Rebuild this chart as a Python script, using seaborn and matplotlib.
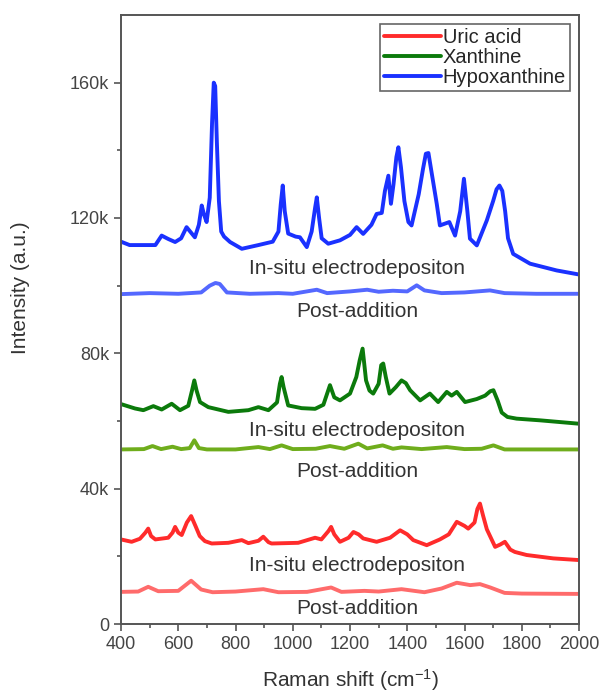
import numpy as np
import pandas as pd
import seaborn as sns
import matplotlib.pyplot as plt

# === DATA (intensities in k counts) ===

#hypoxanthine, in-situ electrodeposition
hyp_x = [400, 430, 520, 542, 565, 589, 610, 629, 658, 672, 682, 690, 699, 710, 718, 724, 729, 735, 742, 750,
         760, 781, 822, 880, 930, 950, 958, 965, 972, 984, 1010, 1025, 1049, 1066, 1078, 1084, 1092, 1101, 1124, 1165,
         1200, 1223, 1246, 1275, 1293, 1311, 1322, 1334, 1343, 1352, 1362, 1369, 1378, 1390, 1404, 1415, 1440, 1455, 1465, 1474,
         1484, 1503, 1514, 1547, 1567, 1585, 1598, 1610, 1619, 1643, 1678, 1700, 1712, 1722, 1732, 1742, 1752, 1770, 1829, 1922,
         2000]
hyp_y = [113, 112, 112, 114.8, 113.8, 112.9, 114, 117.3, 114.3, 118, 123.7, 121, 118.8, 126, 148, 160, 159, 142, 125, 116,
         114.5, 112.9, 110.9, 112, 113, 116, 124, 129.6, 122, 115.4, 114.5, 114.3, 111.4, 116, 123, 126.1, 120, 114, 112.4, 113.4,
         115, 117.3, 115.3, 118, 121.2, 121.5, 128, 132.5, 124.2, 130, 138, 140.9, 135, 125, 118.8, 117.8, 127, 134.5, 139, 139.2,
         134, 124.2, 117.8, 118.8, 114.8, 122, 131.6, 122, 113.9, 111.9, 119.3, 125, 128.5, 129.6, 128, 122, 114, 109.4, 106.5, 104.5,
         103.3]

#hypoxanthine, post-addition
hyp_post_x = [400, 500, 600, 680, 710, 730, 745, 770, 850, 950, 1000, 1084, 1120, 1200, 1260, 1300, 1350, 1400, 1433, 1460,
              1520, 1600, 1689, 1740, 1850, 2000]
hyp_post_y = [97.5, 97.8, 97.6, 98, 100, 100.8, 100.5, 98, 97.6, 97.8, 97.6, 98.8, 97.8, 98.3, 98.8, 98.2, 98.5, 98.3, 100.1, 98.6,
              97.8, 98, 98.6, 97.8, 97.6, 97.6]

#xanthine, in-situ electrodeposition
xan_x = [400, 449, 478, 513, 542, 577, 606, 635, 648, 656, 664, 676, 705, 775, 845, 880, 915, 945, 955, 961,
         968, 984, 1031, 1078, 1107, 1130, 1145, 1165, 1200, 1222, 1234, 1244, 1256, 1268, 1281, 1300, 1309, 1316, 1325, 1338,
         1360, 1380, 1395, 1410, 1445, 1479, 1508, 1538, 1555, 1573, 1602, 1643, 1672, 1690, 1701, 1716, 1730, 1750, 1782, 1864,
         2000]
xan_y = [65, 63.7, 63.2, 64.4, 63.4, 65.1, 63.2, 64.5, 69, 72, 69, 65.6, 64.1, 62.7, 63.2, 64.1, 63.2, 65.5, 71, 73,
         70, 64.6, 63.8, 63.6, 64.8, 70.6, 67, 66.1, 68.1, 73, 78, 81.4, 72, 69, 68.1, 71, 76.5, 77, 73, 68.1,
         70, 72, 71.2, 69.1, 66.1, 68.1, 65.6, 68.6, 67.5, 68.6, 65.6, 66.5, 67.5, 68.8, 69.1, 66, 62.5, 61.2, 60.7, 60.2,
         59.2]

#xanthine, post-addition
xan_post_x = [400, 480, 510, 540, 580, 610, 640, 656, 672, 700, 800, 880, 920, 961, 1000, 1080, 1130, 1180, 1229, 1260,
              1314, 1350, 1380, 1450, 1538, 1600, 1660, 1701, 1740, 2000]
xan_post_y = [51.6, 51.7, 52.6, 51.7, 52.4, 51.7, 52, 54.3, 52, 51.6, 51.6, 52.3, 51.7, 52.8, 51.7, 51.8, 52.6, 51.8, 53.3, 51.9,
              52.8, 51.8, 52.2, 51.7, 52.3, 51.7, 51.8, 52.8, 51.6, 51.6]

#uric acid, in-situ electrodeposition
uric_x = [400, 437, 466, 485, 495, 505, 520, 565, 580, 589, 600, 612, 630, 645, 660, 675, 693, 717, 775, 822,
          845, 880, 897, 915, 926, 1019, 1078, 1100, 1125, 1134, 1145, 1165, 1195, 1212, 1230, 1246, 1293, 1340, 1375, 1400,
          1421, 1468, 1514, 1545, 1573, 1600, 1613, 1635, 1645, 1654, 1665, 1678, 1707, 1725, 1741, 1760, 1776, 1817, 1910, 2000]
uric_y = [25, 24.3, 25.2, 27, 28.2, 26, 25, 25.5, 27, 28.7, 27, 26.3, 30, 31.9, 29, 26, 24.5, 23.8, 24, 24.8,
          23.9, 24.6, 25.8, 24.2, 23.8, 24, 25.5, 25, 27.5, 28.7, 26.5, 24.3, 25.5, 27.2, 26.5, 25.3, 24.3, 25.5, 27.7, 26.5,
          24.8, 23.3, 25, 26.5, 30.2, 29, 28.2, 30, 34, 35.6, 32, 28, 22.8, 23.5, 24.3, 22, 21.3, 20.4, 19.4, 18.9]

#uric acid, post-addition
uric_post_x = [400, 460, 495, 530, 600, 645, 680, 720, 800, 897, 950, 1050, 1134, 1170, 1250, 1300, 1380, 1460, 1520, 1573,
               1620, 1654, 1690, 1740, 1800, 2000]
uric_post_y = [9.5, 9.6, 11, 9.7, 9.8, 12.8, 10.2, 9.4, 9.6, 10.3, 9.4, 9.5, 10.8, 9.5, 9.8, 9.6, 10.3, 9.4, 10.5, 12.2,
               11.5, 11.8, 10.8, 9.2, 9, 8.9]

y_ticks = [0, 40000, 80000, 120000, 160000]
y_tick_labels = ['0', '40k', '80k', '120k', '160k']

# === PLOT ===

sns.set_style("ticks")
plt.rcParams['font.family'] = ['Liberation Sans', 'DejaVu Sans']
plt.rcParams['mathtext.default'] = 'regular'

fig = plt.figure(figsize = (6, 6.97), dpi = 100)
ax = fig.add_axes([0.2017, 0.1047, 0.7633, 0.8738])

#(x, y, colour, legend label)
curves = [(uric_post_x, uric_post_y, '#ff6b6b', None),
          (uric_x, uric_y, '#ff2b2b', 'Uric acid'),
          (xan_post_x, xan_post_y, '#6fad1c', None),
          (xan_x, xan_y, '#0b7a0b', 'Xanthine'),
          (hyp_post_x, hyp_post_y, '#5468ff', None),
          (hyp_x, hyp_y, '#1a31ff', 'Hypoxanthine')]

for cx, cy, col, lab in curves:
  df = pd.DataFrame({'shift': cx, 'intensity': np.array(cy) * 1000})
  sns.lineplot(data = df, x = 'shift', y = 'intensity', color = col, lw = 2.8,
               label = lab, ax = ax, legend = False,
               solid_joinstyle = 'round', solid_capstyle = 'round')

#legend (drawn in the order of the in-situ curves)
handles = [l for l in ax.get_lines() if not l.get_label().startswith('_')]
leg = ax.legend(handles = handles, labels = [h.get_label() for h in handles],
                loc = 'upper right', fontsize = 14.5, frameon = True, fancybox = False,
                edgecolor = '#404040', handlelength = 2.8, handletextpad = 0.1,
                borderpad = 0.2, labelspacing = 0.05, borderaxespad = 0.45)
leg.get_frame().set_linewidth(1.2)

#text labels for each pair of spectra
label_x = 1224
for y_in, y_post in [(105000, 92400), (57300, 45200), (17400, 4700)]:
  ax.text(label_x, y_in, 'In-situ electrodepositon', ha = 'center', va = 'center',
          fontsize = 15, color = '#333333')
  ax.text(label_x, y_post, 'Post-addition', ha = 'center', va = 'center',
          fontsize = 15, color = '#333333')

ax.set_xlim(400, 2000)
ax.set_ylim(0, 180000)
ax.set_xticks(range(400, 2001, 200))
ax.set_xticks(range(500, 2000, 200), minor = True)
ax.set_yticks(y_ticks)
ax.set_yticklabels(y_tick_labels)
ax.set_yticks(range(20000, 180000, 40000), minor = True)

ax.tick_params(axis = 'both', which = 'major', labelsize = 13, labelcolor = '#444444',
               color = '#555555', length = 5, width = 1.2, direction = 'out')
ax.tick_params(axis = 'both', which = 'minor', color = '#555555', length = 3,
               width = 1.2, direction = 'out')
for sp in ax.spines.values():
  sp.set_color('#555555')
  sp.set_linewidth(1.4)

ax.set_xlabel('Raman shift (cm$^{-1}$)', fontsize = 15, color = '#333333', labelpad = 10)
ax.set_ylabel('Intensity (a.u.)', fontsize = 15, color = '#333333')
ax.yaxis.set_label_coords(-0.199, 0.553)

plt.savefig('out.png', dpi = 100)
